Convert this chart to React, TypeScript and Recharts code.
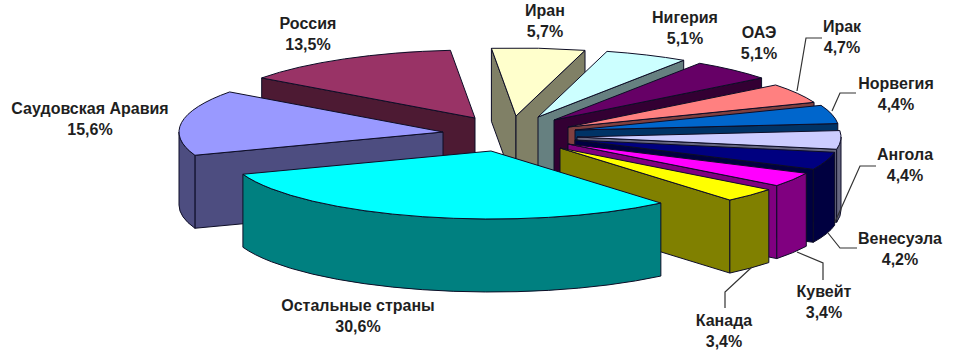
import { Pie, PieChart } from 'recharts';

const names = [
  'Саудовская Аравия',
  'Россия',
  'Иран',
  'Нигерия',
  'ОАЭ',
  'Ирак',
  'Норвегия',
  'Ангола',
  'Венесуэла',
  'Кувейт',
  'Канада',
  'Остальные страны',
];
const shares = [15.6, 13.5, 5.7, 5.1, 5.1, 4.7, 4.4, 4.4, 4.2, 3.4, 3.4, 30.6];

const topColors = ['#9999ff', '#993366', '#ffffcc', '#ccffff', '#660066', '#ff8080', '#0066cc', '#ccccff', '#000080', '#ff00ff', '#ffff00', '#00ffff'];
const wallColors = ['#4d4d80', '#4d1a33', '#808066', '#668080', '#330033', '#804040', '#003366', '#666680', '#000040', '#800080', '#808000', '#008080'];

// how far each slice is pulled out of the pie, in pixels
const explodeX = [-133, -101, -60, -38, -22, -8, -1, 1, -1, -8, -16, -85];
const explodeY = [1, -13, -15, -14, -11, -4, -1, 6, 9, 13, 17, 20];

// label block: centre x, first baseline
const labelX = [90, 308, 545, 685, 759, 842, 896, 905, 900, 824, 724, 358];
const labelY = [114, 29, 16, 23, 38, 32, 89, 160, 244, 297, 326, 311];

// leader lines, empty where a label has none
const leaders: number[][][] = [
  [],
  [],
  [],
  [],
  [],
  [[822, 38], [806, 38], [797, 91]],
  [[856, 93], [840, 93], [832, 111]],
  [[876, 166], [860, 166], [835, 222]],
  [[857, 248], [840, 248], [828, 233]],
  [[823, 280], [823, 263], [797, 252]],
  [[752, 267], [725, 292], [725, 308]],
  [],
];

const tableData = names.map((name, i) => ({ name, value: shares[i] }));

const CX = 576;
const CY = 131;
const RADIUS = 264;
const SQUASH = 68 / 264;
const DEPTH = 73;
const RAD = Math.PI / 180;

// painter's order: back slices first, the two big front ones on top
const layers = [names.slice(1, 11), [names[0]], [names[11]]];

function SliceShape({ layer, ...props }: any) {
  const name = props.payload?.name ?? props.name;
  if (!layer.includes(name)) return null;
  const i = names.indexOf(name);
  const { cx, cy, outerRadius, startAngle, endAngle } = props;
  const rx = outerRadius;
  const ry = outerRadius * SQUASH;
  const ox = cx + explodeX[i];
  const oy = cy + explodeY[i];
  const pt = (a: number, dz = 0) => {
    const x = ox + rx * Math.cos(a * RAD);
    const y = oy - ry * Math.sin(a * RAD) + dz;
    return `${x.toFixed(2)} ${y.toFixed(2)}`;
  };
  const tip = `${ox} ${oy}`;
  const tipLow = `${ox} ${oy + DEPTH}`;
  const stroke = { stroke: '#0d0d26', strokeWidth: 1, strokeLinejoin: 'round' as const };
  const large = Math.abs(startAngle - endAngle) > 180 ? 1 : 0;

  const walls = [];
  if (Math.cos(startAngle * RAD) < 0) {
    walls.push(`M${tip} L${pt(startAngle)} L${pt(startAngle, DEPTH)} L${tipLow} Z`);
  }
  if (Math.cos(endAngle * RAD) > 0) {
    walls.push(`M${tip} L${pt(endAngle)} L${pt(endAngle, DEPTH)} L${tipLow} Z`);
  }
  // rim is only seen on the near half of the ellipse
  for (const k of [0, 1]) {
    const hi = Math.min(startAngle, -360 * k);
    const lo = Math.max(endAngle, -180 - 360 * k);
    if (hi > lo) {
      walls.push(`M${pt(hi)} A${rx} ${ry} 0 0 1 ${pt(lo)} L${pt(lo, DEPTH)} A${rx} ${ry} 0 0 0 ${pt(hi, DEPTH)} Z`);
    }
  }

  return (
    <g>
      {walls.map((d) => (
        <path key={d} d={d} fill={wallColors[i]} {...stroke} />
      ))}
      <path
        d={`M${tip} L${pt(startAngle)} A${rx} ${ry} 0 ${large} 1 ${pt(endAngle)} Z`}
        fill={topColors[i]}
        {...stroke}
      />
    </g>
  );
}

function SliceLabel({ index }: any) {
  const share = shares[index].toFixed(1).replace('.', ',');
  return (
    <text
      x={labelX[index]}
      y={labelY[index]}
      textAnchor="middle"
      fontFamily="'Liberation Sans', Arial, sans-serif"
      fontWeight="bold"
      fontSize={16}
      fill="#1f1f1f"
    >
      <tspan x={labelX[index]}>{names[index]}</tspan>
      <tspan x={labelX[index]} dy={21}>
        {share}%
      </tspan>
    </text>
  );
}

function LeaderLine({ index }: any) {
  const line = leaders[index];
  if (!line.length) return <g />;
  return <polyline points={line.map((p) => p.join(',')).join(' ')} fill="none" stroke="#333" strokeWidth={1.2} />;
}

const pieGeometry = {
  dataKey: 'value',
  nameKey: 'name',
  cx: CX,
  cy: CY,
  innerRadius: 0,
  outerRadius: RADIUS,
  startAngle: -160,
  endAngle: -520,
  isAnimationActive: false,
  stroke: 'none',
};

export default function App() {
  return (
    <div style={{ position: 'absolute', left: 0, top: 0, width: 956, height: 356, background: '#fff' }}>
      <PieChart width={956} height={356} margin={{ top: 0, right: 0, bottom: 0, left: 0 }}>
        {layers.map((layer, n) => {
          const draw = (props: any) => <SliceShape {...props} layer={layer} />;
          return <Pie key={n} {...pieGeometry} data={tableData} shape={draw} inactiveShape={draw} activeShape={draw} />;
        })}
        <Pie
          {...pieGeometry}
          data={tableData}
          shape={() => <g />}
          inactiveShape={() => <g />}
          activeShape={() => <g />}
          label={(props: any) => <SliceLabel {...props} />}
          labelLine={(props: any) => <LeaderLine {...props} />}
        />
      </PieChart>
    </div>
  );
}
